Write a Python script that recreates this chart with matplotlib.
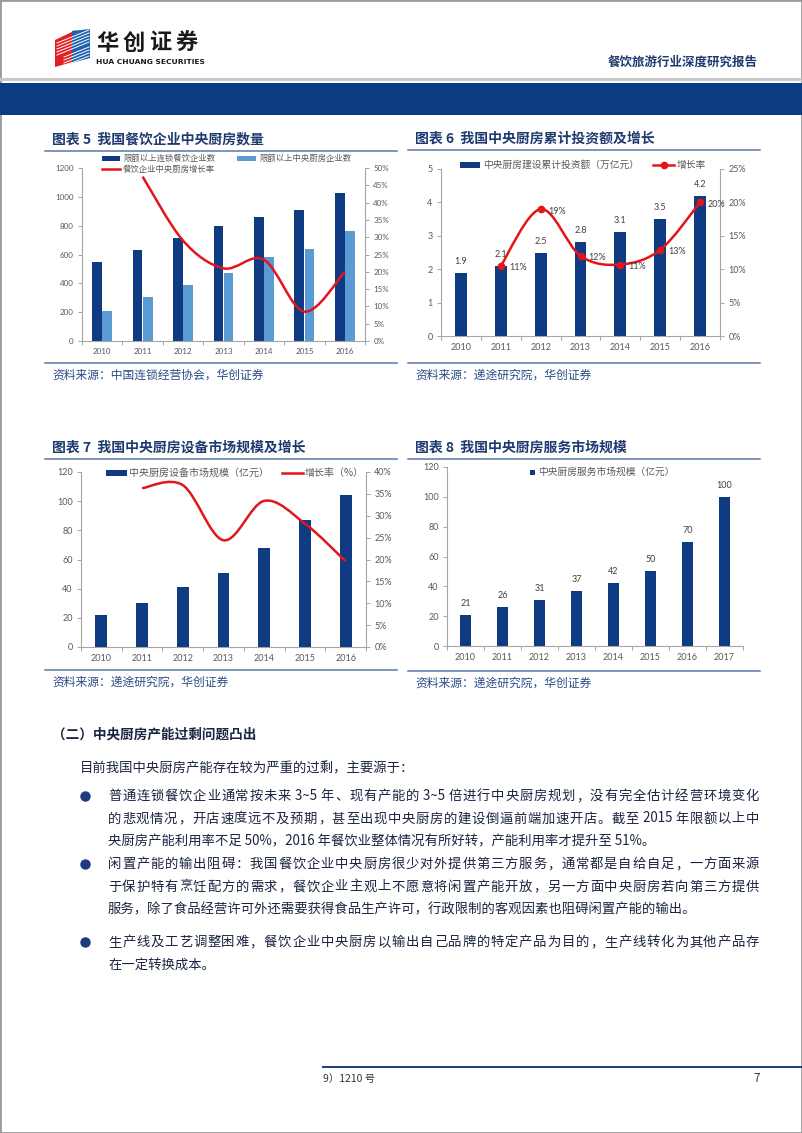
import matplotlib
matplotlib.use('Agg')
import matplotlib.pyplot as plt
from matplotlib.patches import Rectangle, Polygon, PathPatch
from matplotlib.path import Path
from matplotlib.lines import Line2D
import numpy as np

plt.rcParams['font.family'] = ['Noto Sans CJK SC', 'DejaVu Sans']

# ---------------- data ----------------
years_7 = ['2010', '2011', '2012', '2013', '2014', '2015', '2016']
years_8 = ['2010', '2011', '2012', '2013', '2014', '2015', '2016', '2017']

# Chart 5
chain_restaurants = [550, 630, 715, 795, 860, 910, 1025]
kitchen_firms = [205, 305, 390, 475, 585, 635, 760]
kitchen_growth = [np.nan, 47.5, 29.0, 21.0, 23.5, 8.5, 20.0]

# Chart 6
invest = [1.9, 2.1, 2.5, 2.8, 3.1, 3.5, 4.2]
invest_growth = [np.nan, 10.5, 19.0, 12.0, 10.7, 12.9, 20.0]
invest_growth_labels = ['', '11%', '19%', '12%', '11%', '13%', '20%']

# Chart 7
equip = [22, 30, 41, 51, 68, 87, 104]
equip_growth = [np.nan, 36.3, 37.0, 24.4, 33.4, 28.2, 19.6]

# Chart 8
service = [21, 26, 31, 37, 42, 50, 70, 100]

# ---------------- style ----------------
W, H = 802, 1133
DARK = '#0f3b82'
LIGHT = '#5b9bd5'
RED = '#e3151b'
AXC = '#a6a6a6'
TC = '#595959'
TITLE = '#1f3a70'
BODY = '#1a2440'
NUM_FONT = ['Lato', 'DejaVu Sans']
CJK = ['Noto Sans CJK SC', 'DejaVu Sans']

fig = plt.figure(figsize=(W / 100, H / 100), dpi=100)
renderer = fig.canvas.get_renderer()


def fx(x):
    return x / W


def fy(y):
    return 1 - y / H


def add_ax(x0, y0, x1, y1):
    return fig.add_axes([fx(x0), fy(y1), (x1 - x0) / W, (y1 - y0) / H])


def ftext(x, y, s, **kw):
    kw.setdefault('va', 'center')
    return fig.text(fx(x), fy(y), s, **kw)


def hline(x0, x1, y, color, lw):
    fig.add_artist(Line2D([fx(x0), fx(x1)], [fy(y), fy(y)], color=color, lw=lw,
                          transform=fig.transFigure))


def frect(x0, y0, x1, y1, color):
    fig.add_artist(Rectangle((fx(x0), fy(y1)), (x1 - x0) / W, (y1 - y0) / H,
                             transform=fig.transFigure, facecolor=color,
                             edgecolor='none'))


def justify(s, x0, x1, y, **kw):
    tokens, buf = [], ''
    for ch in s:
        if ord(ch) < 128:
            buf += ch
        else:
            if buf:
                tokens.append(buf)
                buf = ''
            tokens.append(ch)
    if buf:
        tokens.append(buf)
    texts = [fig.text(0, fy(y), t, va='center', ha='left', **kw) for t in tokens]
    widths = [t.get_window_extent(renderer).width for t in texts]
    gap = max((x1 - x0 - sum(widths)) / max(len(tokens) - 1, 1), 0)
    x = x0
    for t, w in zip(texts, widths):
        t.set_x(fx(x))
        x += w + gap


def smooth_path(xs, ys):
    pts = np.column_stack([xs, ys]).astype(float)
    n = len(pts)
    verts = [pts[0]]
    codes = [Path.MOVETO]
    for i in range(n - 1):
        p0 = pts[i - 1] if i > 0 else pts[i]
        p1, p2 = pts[i], pts[i + 1]
        p3 = pts[i + 2] if i + 2 < n else pts[i + 1]
        c1 = p1 + (p2 - p0) / 6.0
        c2 = p2 - (p3 - p1) / 6.0
        verts += [c1, c2, p2]
        codes += [Path.CURVE4] * 3
    return Path(verts, codes)


def style_main(ax, ncat, ymax, ystep, fs, fmt=None):
    ax.set_xlim(-0.5, ncat - 0.5)
    ax.set_ylim(0, ymax)
    ax.set_yticks(np.arange(0, ymax + ystep / 2, ystep))
    if fmt:
        ax.set_yticklabels([fmt(v) for v in ax.get_yticks()])
    for s in ['top', 'right']:
        ax.spines[s].set_visible(False)
    for s in ['left', 'bottom']:
        ax.spines[s].set_color(AXC)
        ax.spines[s].set_linewidth(0.8)
    ax.tick_params(axis='y', colors=AXC, labelcolor=TC, labelsize=fs, length=3,
                   width=0.7, pad=3)
    ax.tick_params(axis='x', which='major', length=0, labelcolor=TC, labelsize=fs,
                   pad=5)
    ax.set_xticks(np.arange(-0.5, ncat, 1.0), minor=True)
    ax.tick_params(axis='x', which='minor', length=3, width=0.7, color=AXC)
    for lab in ax.get_xticklabels() + ax.get_yticklabels():
        lab.set_family(NUM_FONT)
    ax.patch.set_alpha(0)


def style_right(ax2, ymax, ystep, fs):
    ax2.set_ylim(0, ymax)
    ticks = np.arange(0, ymax + ystep / 2, ystep)
    ax2.set_yticks(ticks)
    ax2.set_yticklabels(['%d%%' % t for t in ticks])
    for s in ['top', 'left', 'bottom']:
        ax2.spines[s].set_visible(False)
    ax2.spines['right'].set_color(AXC)
    ax2.spines['right'].set_linewidth(0.8)
    ax2.tick_params(axis='y', colors=AXC, labelcolor=TC, labelsize=fs, length=3,
                    width=0.7, pad=3)
    for lab in ax2.get_yticklabels():
        lab.set_family(NUM_FONT)


# ---------------- page frame & header ----------------
fig.add_artist(Rectangle((0, 0), 1, 1, transform=fig.transFigure, fill=False,
                         edgecolor='#9a9a9a', lw=2))
hline(0, W, 78.5, '#c8c8c8', 2.2)
frect(0, 83, W, 115, '#0b3b80')

# logo
red_face = [(55, 40), (76, 30), (76, 61), (55, 67)]
blue_face = [(72, 31), (90, 29), (90, 58), (72, 63)]
fig.add_artist(Polygon([(fx(a), fy(b)) for a, b in red_face], closed=True,
                       transform=fig.transFigure, facecolor='#e31e24', edgecolor='none'))
fig.add_artist(Polygon([(fx(a), fy(b)) for a, b in blue_face], closed=True,
                       transform=fig.transFigure, facecolor='#1f5fb0', edgecolor='none'))
for k in range(5):
    fig.add_artist(Line2D([fx(57), fx(89)], [fy(43 + 3 * k), fy(30 + 3 * k)],
                          color='white', lw=0.7, transform=fig.transFigure))
for k in range(4):
    fig.add_artist(Line2D([fx(64), fx(89)], [fy(66 - 3 * k), fy(56 - 3 * k)],
                          color='white', lw=0.7, transform=fig.transFigure))
justify('华创证券', 96, 198, 43, fontsize=16, fontweight='heavy', color='#1a1a1a',
        family=CJK)
ftext(96, 61.5, 'HUA CHUANG SECURITIES', fontsize=5.4, fontweight='bold',
      color='#1a1a1a', family=['DejaVu Sans'])
ftext(758, 62, '餐饮旅游行业深度研究报告', ha='right', fontsize=9,
      fontweight='bold', color=TITLE)

# ---------------- chart titles / sources ----------------
def chart_frame(x0, x1, y_title, y_line, y_src_line, title, src):
    ftext(x0 + 7, y_title, title, fontsize=10, fontweight='bold', color=TITLE)
    hline(x0, x1, y_line, '#5a78a8', 1.1)
    hline(x0, x1, y_src_line, '#5a78a8', 1.1)
    ftext(x0 + 7, y_src_line + 12, src, fontsize=8.5, color='#2b4a86')


chart_frame(45, 397, 139, 151, 363, '图表 5  我国餐饮企业中央厨房数量',
            '资料来源：中国连锁经营协会，华创证券')
chart_frame(408, 760, 139, 150, 363, '图表 6  我国中央厨房累计投资额及增长',
            '资料来源：递途研究院，华创证券')
chart_frame(45, 397, 448, 459, 670, '图表 7  我国中央厨房设备市场规模及增长',
            '资料来源：递途研究院，华创证券')
chart_frame(408, 760, 448, 459, 671, '图表 8  我国中央厨房服务市场规模',
            '资料来源：递途研究院，华创证券')

# ---------------- Chart 5 ----------------
ax5 = add_ax(82, 168, 365, 341)
x = np.arange(len(years_7))
ax5.bar(x - 0.125, chain_restaurants, width=0.24, color=DARK, zorder=2)
ax5.bar(x + 0.125, kitchen_firms, width=0.24, color=LIGHT, zorder=2)
ax5.set_xticks(x)
ax5.set_xticklabels(years_7)
style_main(ax5, 7, 1200, 200, 5.8)
ax5b = ax5.twinx()
style_right(ax5b, 50, 5, 5.8)
g = np.array(kitchen_growth)
m = ~np.isnan(g)
ax5b.add_patch(PathPatch(smooth_path(x[m], g[m]), fill=False, edgecolor=RED, lw=1.8,
                         zorder=3))
ax5b.set_xlim(-0.5, 6.5)
# legend
frect(102, 155.5, 120, 161, DARK)
ftext(123, 158, '限额以上连锁餐饮企业数', fontsize=6, color=TC)
frect(237, 155.5, 256, 161, LIGHT)
ftext(259, 158, '限额以上中央厨房企业数', fontsize=6, color=TC)
hline(102, 120, 169, RED, 1.8)
ftext(123, 169, '餐饮企业中央厨房增长率', fontsize=6, color=TC)

# ---------------- Chart 6 ----------------
ax6 = add_ax(441, 169, 720, 336)
ax6.bar(x, invest, width=0.3, color=DARK, zorder=2)
ax6.set_xticks(x)
ax6.set_xticklabels(years_7)
style_main(ax6, 7, 5, 1, 6.5, fmt=lambda v: '%d' % v)
for xi, v in zip(x, invest):
    ax6.annotate('%.1f' % v, (xi, v), xytext=(0, 7), textcoords='offset pixels',
                 ha='center', va='bottom', fontsize=6.5, color='#404040',
                 family=NUM_FONT)
ax6b = ax6.twinx()
style_right(ax6b, 25, 5, 6.5)
g = np.array(invest_growth)
m = ~np.isnan(g)
ax6b.add_patch(PathPatch(smooth_path(x[m], g[m]), fill=False, edgecolor=RED, lw=1.8,
                         zorder=3))
ax6b.plot(x[m], g[m], linestyle='none', marker='o', markersize=4.5, color=RED,
          zorder=4)
ax6b.set_xlim(-0.5, 6.5)
for xi, v, lab in zip(x, invest_growth, invest_growth_labels):
    if lab:
        ax6b.annotate(lab, (xi, v), xytext=(8, -2), textcoords='offset pixels',
                      ha='left', va='center', fontsize=6.5, color='#404040',
                      family=NUM_FONT)
frect(460, 162, 480, 168, DARK)
ftext(483, 165, '中央厨房建设累计投资额（万亿元）', fontsize=7, color=TC)
hline(653, 674, 165, RED, 1.8)
fig.add_artist(Line2D([fx(663.5)], [fy(165)], marker='o', markersize=4.5, color=RED,
                      transform=fig.transFigure))
ftext(677, 165, '增长率', fontsize=7, color=TC)

# ---------------- Chart 7 ----------------
ax7 = add_ax(81, 472, 366, 647)
ax7.bar(x, equip, width=0.29, color=DARK, zorder=2)
ax7.set_xticks(x)
ax7.set_xticklabels(years_7)
style_main(ax7, 7, 120, 20, 6.5)
ax7b = ax7.twinx()
style_right(ax7b, 40, 5, 6.5)
g = np.array(equip_growth)
m = ~np.isnan(g)
ax7b.add_patch(PathPatch(smooth_path(x[m], g[m]), fill=False, edgecolor=RED, lw=1.8,
                         zorder=3))
ax7b.set_xlim(-0.5, 6.5)
frect(106, 470, 127, 476, DARK)
ftext(129, 473, '中央厨房设备市场规模（亿元）', fontsize=7.2, color=TC)
hline(282, 303, 473, RED, 1.8)
ftext(305, 473, '增长率（%）', fontsize=7.2, color=TC)

# ---------------- Chart 8 ----------------
x8 = np.arange(len(years_8))
ax8 = add_ax(447, 467, 743, 646)
ax8.bar(x8, service, width=0.31, color=DARK, zorder=2)
ax8.set_xticks(x8)
ax8.set_xticklabels(years_8)
style_main(ax8, 8, 120, 20, 6.5)
for xi, v in zip(x8, service):
    ax8.annotate('%d' % v, (xi, v), xytext=(0, 7), textcoords='offset pixels',
                 ha='center', va='bottom', fontsize=6.5, color='#404040',
                 family=NUM_FONT)
frect(530, 469.5, 535, 474.5, DARK)
ftext(538, 472, '中央厨房服务市场规模（亿元）', fontsize=7, color=TC)

# ---------------- body text ----------------
ftext(52, 735, '（二）中央厨房产能过剩问题凸出', fontsize=9.8, fontweight='bold',
      color=BODY)
ftext(80, 768, '目前我国中央厨房产能存在较为严重的过剩，主要源于：', fontsize=9.6,
      color=BODY)

bullets = [
    (796, ['普通连锁餐饮企业通常按未来 3~5 年、现有产能的 3~5 倍进行中央厨房规划，没有完全估计经营环境变化',
           '的悲观情况，开店速度远不及预期，甚至出现中央厨房的建设倒逼前端加速开店。截至 2015 年限额以上中',
           '央厨房产能利用率不足 50%，2016 年餐饮业整体情况有所好转，产能利用率才提升至 51%。']),
    (864, ['闲置产能的输出阻碍：我国餐饮企业中央厨房很少对外提供第三方服务，通常都是自给自足，一方面来源',
           '于保护特有烹饪配方的需求，餐饮企业主观上不愿意将闲置产能开放，另一方面中央厨房若向第三方提供',
           '服务，除了食品经营许可外还需要获得食品生产许可，行政限制的客观因素也阻碍闲置产能的输出。']),
    (942, ['生产线及工艺调整困难，餐饮企业中央厨房以输出自己品牌的特定产品为目的，生产线转化为其他产品存',
           '在一定转换成本。']),
]
LS = 22.5
for y0, lines in bullets:
    fig.add_artist(Line2D([fx(85)], [fy(y0)], marker='o', markersize=6.5,
                          color='#1f3a80', transform=fig.transFigure))
    for i, line in enumerate(lines):
        yy = y0 + i * LS
        if i < len(lines) - 1:
            justify(line, 108, 759, yy, fontsize=9.6, color=BODY)
        else:
            ftext(108, yy, line, fontsize=9.6, color=BODY)

# ---------------- footer ----------------
hline(323, W, 1067, '#1f3a80', 1.4)
ftext(323, 1079, '9）1210 号', fontsize=7.5, color='#333333')
ftext(757, 1078, '7', fontsize=8.5, color='#333333', ha='center')

fig.savefig('out.png', dpi=100)
